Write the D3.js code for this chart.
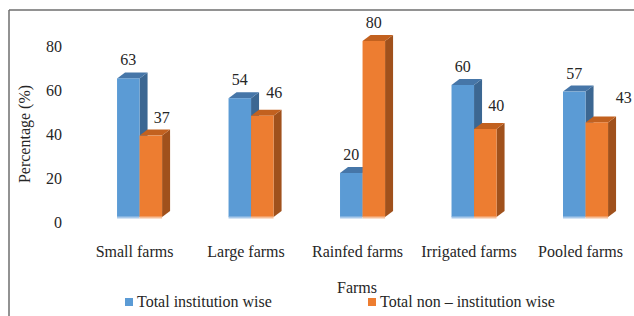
<!DOCTYPE html>
<html><head><meta charset="utf-8">
<script src="https://cdn.jsdelivr.net/npm/d3@7/dist/d3.min.js"></script>
<style>html,body{margin:0;padding:0;background:#fff;}svg{display:block;}text{font-family:"Liberation Serif","Times New Roman",serif;fill:#262626;}</style>
</head><body>
<script>
const categories = ["Small farms","Large farms","Rainfed farms","Irrigated farms","Pooled farms"];
const seriesNames = ["Total institution wise","Total non \u2013 institution wise"];
const institution = [63,54,20,60,57];
const nonInstitution = [37,46,80,40,43];
const yTicks = [0,20,40,60,80];
const xTitle = "Farms";
const yTitle = "Percentage (%)";

const W=634,H=316;
const svg=d3.select("body").append("svg").attr("width",W).attr("height",H);
const colors=[{front:"#5B9BD5",top:"#4676A8",side:"#3C6792",floor:"#A9C9EA"},
              {front:"#ED7D31",top:"#C2611F",side:"#A0511C",floor:"#F6BE98"}];
const values=[institution,nonInstitution];
const depth={dx:8,dy:6};
// label nudges (layout only) keyed by series then category
const nudge=[[{dx:0,dy:0},{dx:0,dy:0},{dx:0,dy:0},{dx:0,dy:0},{dx:0,dy:0}],
             [{dx:11,dy:0},{dx:12,dy:-5},{dx:0,dy:0},{dx:11,dy:-5},{dx:27,dy:-6}]];

// frame
svg.append("line").attr("x1",9).attr("x2",W).attr("y1",10).attr("y2",10).attr("stroke","#6e6e6e").attr("stroke-width",1.5);
svg.append("line").attr("x1",9).attr("x2",9).attr("y1",10).attr("y2",H).attr("stroke","#6e6e6e").attr("stroke-width",1.5);

const x0=d3.scaleBand().domain(categories).range([61.3,663.8]).paddingInner(0.596).paddingOuter(0.5);
const x1=d3.scaleBand().domain([0,1]).range([0,x0.bandwidth()]);
const y=d3.scaleLinear().domain([0,80]).range([217,41]);

// y tick labels
svg.append("g").selectAll("text").data(yTicks).join("text")
  .attr("x",62).attr("y",d=>y(d)+11).attr("text-anchor","end").attr("font-size",16).text(d=>d);

// bars
categories.forEach((c,i)=>{
  [0,1].forEach(s=>{
    const v=values[s][i];
    const xl=x0(c)+x1(s), w=x1.bandwidth(), yt=y(v), yb=y(0);
    const col=colors[s];
    const g=svg.append("g");
    // side
    g.append("path").attr("d",`M${xl+w},${yt} L${xl+w+depth.dx},${yt-depth.dy} L${xl+w+depth.dx},${yb-depth.dy} L${xl+w},${yb} Z`).attr("fill",col.side);
    // top
    g.append("path").attr("d",`M${xl},${yt} L${xl+depth.dx},${yt-depth.dy} L${xl+w+depth.dx},${yt-depth.dy} L${xl+w},${yt} Z`).attr("fill",col.top);
    // front
    g.append("rect").attr("x",xl).attr("y",yt).attr("width",w).attr("height",yb-yt).attr("fill",col.front);
    g.append("rect").attr("x",xl).attr("y",yb-0.5).attr("width",w).attr("height",2).attr("fill",col.floor);
    // label
    const n=nudge[s][i];
    svg.append("text").attr("x",xl+w/2+n.dx).attr("y",yt-13+n.dy).attr("text-anchor","middle").attr("font-size",16).text(v);
  });
});

// category labels
svg.append("g").selectAll("text").data(categories).join("text")
  .attr("x",d=>x0(d)+x0.bandwidth()/2-5).attr("y",257).attr("text-anchor","middle").attr("font-size",16).text(d=>d);

// axis titles
svg.append("text").attr("x",357).attr("y",293).attr("text-anchor","middle").attr("font-size",16).text(xTitle);
svg.append("text").attr("transform","translate(30,134) rotate(-90)").attr("text-anchor","middle").attr("font-size",16).text(yTitle);

// legend
const legX=[125,368];
seriesNames.forEach((nm,s)=>{
  svg.append("rect").attr("x",legX[s]).attr("y",298).attr("width",8).attr("height",8).attr("fill",colors[s].front);
  svg.append("text").attr("x",legX[s]+12).attr("y",307).attr("font-size",16).text(nm);
});
</script>
</body></html>
